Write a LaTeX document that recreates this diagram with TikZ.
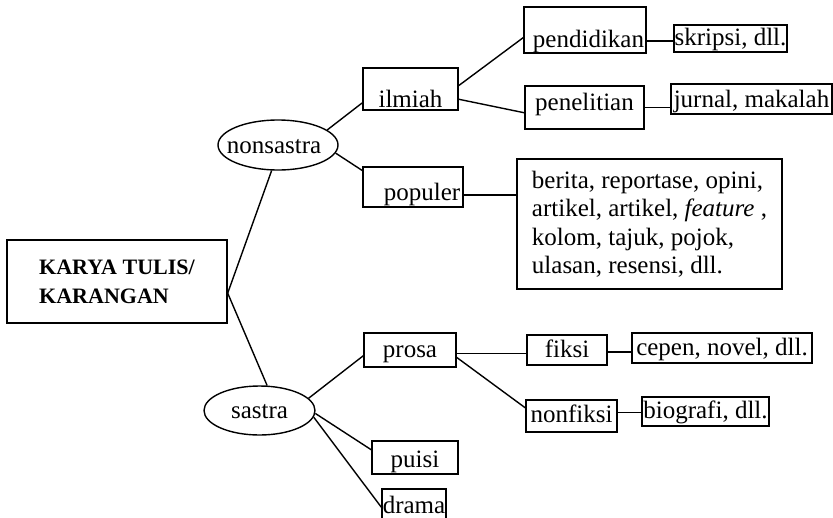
\documentclass[tikz,border=0pt]{standalone}
\usepackage{fontspec}
\setmainfont{Liberation Serif}
\usetikzlibrary{shapes.geometric}
\tikzstyle{box} = [rectangle, draw=black, line width=1.4pt, inner sep=0pt,
text height=20pt, text depth=6pt]
\tikzstyle{bigbox} = [rectangle, draw=black, line width=1.4pt, inner sep=0pt,
align=left]
\tikzstyle{oval} = [ellipse, draw=black, line width=1.4pt, inner sep=0pt]
\tikzstyle{ovaltext} = [inner sep=0pt, text height=22pt, text depth=6pt]
\tikzstyle{line} = [line width=1.4pt]

\begin{document}
\begin{tikzpicture}[x=1pt, y=-1pt,
  every node/.style={font=\fontsize{25}{28.5}\selectfont}]
              \useasboundingbox (0,0) rectangle (833,517);
              \clip (0,0) rectangle (833,517);

              \node (karya) [bigbox, minimum width=220pt, minimum height=83pt,
              font=\fontsize{22}{29}\selectfont\bfseries] at (117,281.5)
              {KARYA TULIS/\\KARANGAN};
              \node (nonsastra) [oval, minimum width=120pt, minimum height=50pt,
              label={[ovaltext, xshift=-4pt]center:nonsastra}] at (278,145) {};
              \node (sastra) [oval, minimum width=111pt, minimum height=49pt,
              label={[ovaltext]center:sastra}] at (259.5,410.5) {};

              \node (ilmiah) [box, minimum width=95pt, minimum height=42pt,
              text height=38pt, text depth=2pt] at (410.5,89) {ilmiah};
              \node (populer) [box, minimum width=100pt, minimum height=40pt,
              text height=32pt] at (413,187) {\hspace{18pt}populer};
              \node (pendidikan) [box, minimum width=122pt, minimum height=46pt,
              text height=36pt, text depth=2pt] at (585,30)
              {\hspace{7pt}pendidikan};
              \node (penelitian) [box, minimum width=119pt, minimum height=43pt,
              text height=11pt] at (584.5,107.5) {penelitian\hspace{10pt}};
              \node (skripsi) [box, minimum width=113pt, minimum height=27pt]
              at (730.5,38.5) {skripsi, dll.};
              \node (jurnal) [box, minimum width=161pt, minimum height=30pt,
              text height=22pt] at (751.5,99) {jurnal, makalah};
              \node (berita) [bigbox, minimum width=265pt, minimum height=130pt]
              at (649.5,224) {berita, reportase, opini,\\artikel, artikel,
              \textit{feature}~,\\kolom, tajuk, pojok,\\ulasan, resensi, dll.};

              \node (prosa) [box, minimum width=92pt, minimum height=34pt]
              at (410,350) {prosa};
              \node (puisi) [box, minimum width=86pt, minimum height=33pt,
              text height=25pt] at (415,457.5) {puisi\hspace{17pt}};
              \node (drama) [box, minimum width=64pt, minimum height=41pt,
              text height=13pt] at (414,509.5) {drama};
              \node (fiksi) [box, minimum width=80pt, minimum height=30pt]
              at (567,350) {fiksi};
              \node (nonfiksi) [box, minimum width=91pt, minimum height=32pt,
              text height=18pt] at (571.5,416) {nonfiksi};
              \node (cepen) [box, minimum width=180pt, minimum height=30pt]
              at (722,348) {cepen, novel, dll.};
              \node (biografi) [box, minimum width=127pt, minimum height=29pt]
              at (705.5,411.5) {biografi, dll.};

              \draw [line] (karya.-6) -- (nonsastra.256);
              \draw [line] (karya.-6) -- (sastra.73);
              \draw [line] (nonsastra.17) -- (ilmiah.196);
              \draw [line] (nonsastra.-8) -- (populer.162);
              \draw [line] (ilmiah.4) -- (pendidikan.187);
              \draw [line] (ilmiah.-12) -- (penelitian.185);
              \draw [line] (pendidikan.-10) -- (pendidikan.-10 -| skripsi.west);
              \draw [line] (penelitian.east) -- (penelitian.east -| jurnal.west);
              \draw [line] (populer.-9) -- (populer.-9 -| berita.west);
              \draw [line] (sastra.14) -- (prosa.187);
              \draw [line] (sastra.-3) -- (puisi.170);
              \draw [line] (sastra.-7) -- (drama.176);
              \draw [line] (prosa.-4) -- (prosa.-4 -| fiksi.west);
              \draw [line] (prosa.-9) -- (nonfiksi.170);
              \draw [line] (fiksi.-3) -- (fiksi.-3 -| cepen.west);
              \draw [line] (nonfiksi.4) -- (nonfiksi.4 -| biografi.west);
            \end{tikzpicture}
\end{document}
